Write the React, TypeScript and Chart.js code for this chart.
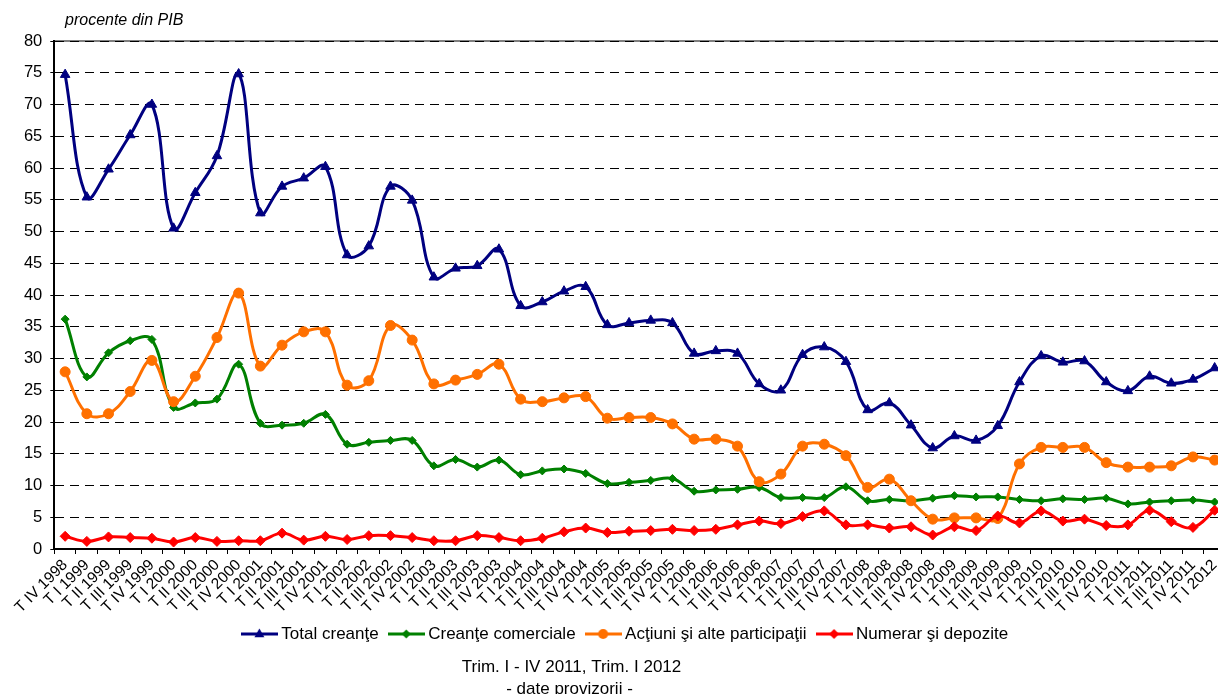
import React, { useEffect, useRef } from 'react';
import { Chart, registerables } from 'chart.js';

Chart.register(...registerables);

const categories = [
  'T IV 1998',
  'T I 1999', 'T II 1999', 'T III 1999', 'T IV 1999',
  'T I 2000', 'T II 2000', 'T III 2000', 'T IV 2000',
  'T I 2001', 'T II 2001', 'T III 2001', 'T IV 2001',
  'T I 2002', 'T II 2002', 'T III 2002', 'T IV 2002',
  'T I 2003', 'T II 2003', 'T III 2003', 'T IV 2003',
  'T I 2004', 'T II 2004', 'T III 2004', 'T IV 2004',
  'T I 2005', 'T II 2005', 'T III 2005', 'T IV 2005',
  'T I 2006', 'T II 2006', 'T III 2006', 'T IV 2006',
  'T I 2007', 'T II 2007', 'T III 2007', 'T IV 2007',
  'T I 2008', 'T II 2008', 'T III 2008', 'T IV 2008',
  'T I 2009', 'T II 2009', 'T III 2009', 'T IV 2009',
  'T I 2010', 'T II 2010', 'T III 2010', 'T IV 2010',
  'T I 2011', 'T II 2011', 'T III 2011', 'T IV 2011',
  'T I 2012',
];

const totalCreante = [
  74.7, 55.4, 59.8, 65.2, 70.0, 50.5, 56.1, 61.9, 74.8, 52.9,
  57.1, 58.4, 60.2, 46.3, 47.7, 57.1, 54.9, 42.8, 44.2, 44.6,
  47.2, 38.3, 38.9, 40.6, 41.3, 35.3, 35.6, 36.0, 35.6, 30.8,
  31.2, 30.8, 26.0, 25.0, 30.6, 31.8, 29.5, 21.9, 23.0, 19.5,
  15.9, 17.8, 17.1, 19.4, 26.3, 30.4, 29.4, 29.6, 26.3, 24.9,
  27.2, 26.1, 26.7, 28.5,
];

const creanteComerciale = [
  36.2, 27.1, 30.9, 32.8, 33.0, 22.3, 23.0, 23.6, 29.1, 19.8,
  19.5, 19.8, 21.2, 16.5, 16.8, 17.1, 17.1, 13.1, 14.1, 12.9,
  14.0, 11.7, 12.3, 12.6, 11.9, 10.3, 10.5, 10.8, 11.1, 9.1,
  9.3, 9.4, 9.7, 8.1, 8.1, 8.1, 9.8, 7.6, 7.8, 7.6,
  8.0, 8.4, 8.2, 8.2, 7.8, 7.6, 7.9, 7.8, 8.0, 7.1,
  7.4, 7.6, 7.7, 7.4,
];

const actiuni = [
  27.9, 21.3, 21.3, 24.8, 29.7, 23.2, 27.2, 33.3, 40.3, 28.8,
  32.1, 34.2, 34.2, 25.8, 26.5, 35.2, 32.9, 26.0, 26.6, 27.5,
  29.1, 23.6, 23.2, 23.8, 24.0, 20.6, 20.7, 20.7, 19.7, 17.3,
  17.3, 16.2, 10.6, 11.8, 16.2, 16.5, 14.7, 9.7, 11.0, 7.6,
  4.7, 4.9, 4.9, 4.8, 13.4, 16.0, 16.0, 16.0, 13.6, 12.9,
  12.9, 13.1, 14.5, 14.0,
];

const numerar = [
  2.0, 1.2, 1.9, 1.8, 1.7, 1.1, 1.8, 1.2, 1.3, 1.3,
  2.5, 1.4, 2.0, 1.5, 2.1, 2.1, 1.8, 1.3, 1.3, 2.1,
  1.8, 1.3, 1.7, 2.7, 3.3, 2.6, 2.8, 2.9, 3.1, 2.9,
  3.1, 3.8, 4.4, 4.0, 5.1, 6.0, 3.8, 3.8, 3.3, 3.5,
  2.2, 3.5, 2.9, 5.2, 4.1, 6.0, 4.4, 4.7, 3.7, 3.8,
  6.1, 4.3, 3.4, 6.1,
];

const seriesNames = ['Total creanţe', 'Creanţe comerciale', 'Acţiuni şi alte participaţii', 'Numerar şi depozite'];
const seriesColors = ['#000080', '#008000', '#FF7000', '#FF0000'];
const yTicks = [0, 5, 10, 15, 20, 25, 30, 35, 40, 45, 50, 55, 60, 65, 70, 75, 80];

const titleText = 'procente din PIB';
const noteLine1 = 'Trim. I - IV 2011, Trim. I 2012';
const noteLine2 = '- date provizorii -';

const FONT = '"Liberation Sans", Arial, Helvetica, sans-serif';

function makeIcon(color: string, style: string, r: number): HTMLCanvasElement {
  const c = document.createElement('canvas');
  c.width = 37;
  c.height = 14;
  const ctx = c.getContext('2d')!;
  ctx.strokeStyle = color;
  ctx.fillStyle = color;
  ctx.lineWidth = 3;
  ctx.beginPath();
  ctx.moveTo(0, 7);
  ctx.lineTo(37, 7);
  ctx.stroke();
  const x = 18.5;
  const y = 7;
  ctx.beginPath();
  if (style === 'triangle') {
    ctx.moveTo(x, y - r);
    ctx.lineTo(x + r * 0.9, y + r * 0.6);
    ctx.lineTo(x - r * 0.9, y + r * 0.6);
    ctx.closePath();
  } else if (style === 'circle') {
    ctx.arc(x, y, r, 0, Math.PI * 2);
  } else {
    ctx.moveTo(x - r, y);
    ctx.lineTo(x, y - r);
    ctx.lineTo(x + r, y);
    ctx.lineTo(x, y + r);
    ctx.closePath();
  }
  ctx.fill();
  return c;
}

const decorPlugin = {
  id: 'decor',
  beforeDraw(chart: any) {
    const { ctx, chartArea, width, height } = chart;
    ctx.save();
    ctx.fillStyle = '#ffffff';
    ctx.fillRect(0, 0, width, height);
    ctx.strokeStyle = '#808080';
    ctx.lineWidth = 2;
    ctx.beginPath();
    ctx.moveTo(chartArea.left, chartArea.top);
    ctx.lineTo(chartArea.right, chartArea.top);
    ctx.stroke();
    ctx.restore();
  },
  afterDraw(chart: any) {
    const { ctx } = chart;
    ctx.save();
    ctx.fillStyle = '#000';
    ctx.textBaseline = 'alphabetic';
    ctx.font = `italic 16px ${FONT}`;
    ctx.textAlign = 'left';
    ctx.fillText(titleText, 65, 25);
    ctx.font = `17px ${FONT}`;
    ctx.textAlign = 'center';
    ctx.fillText(noteLine1, 571.5, 671.5);
    ctx.fillText(noteLine2, 569.5, 693.5);
    ctx.restore();
  },
};

export default function App() {
  const canvasRef = useRef<HTMLCanvasElement | null>(null);

  useEffect(() => {
    if (!canvasRef.current) return;
    const styles = ['triangle', 'rectRot', 'circle', 'rectRot'];
    const radii = [5.5, 4, 5, 5];
    const iconR = [5.5, 4.5, 5, 5];
    const values = [totalCreante, creanteComerciale, actiuni, numerar];
    const icons = seriesColors.map((c, i) => makeIcon(c, styles[i], iconR[i]));

    const chart = new Chart(canvasRef.current, {
      type: 'line',
      data: {
        labels: categories,
        datasets: values.map((v, i) => ({
          label: seriesNames[i],
          data: v,
          borderColor: seriesColors[i],
          backgroundColor: seriesColors[i],
          pointBackgroundColor: seriesColors[i],
          pointBorderColor: seriesColors[i],
          pointStyle: styles[i] as any,
          pointRadius: radii[i],
          pointBorderWidth: 1,
          borderWidth: 3,
          tension: 0.4,
          fill: false,
          order: 4 - i,
        })),
      },
      options: {
        responsive: false,
        animation: false,
        events: [],
        layout: { padding: { left: 22, top: 41, right: 0, bottom: 41.5 } },
        plugins: {
          tooltip: { enabled: false },
          title: { display: false },
          legend: {
            display: true,
            position: 'bottom',
            labels: {
              usePointStyle: true,
              pointStyleWidth: 27,
              padding: 14,
              color: '#000',
              font: { family: FONT, size: 17 },
              generateLabels: (ch: any) =>
                ch.data.datasets.map((ds: any, i: number) => ({
                  text: ds.label,
                  fillStyle: seriesColors[i],
                  strokeStyle: seriesColors[i],
                  lineWidth: 0,
                  pointStyle: icons[i],
                  hidden: false,
                  datasetIndex: i,
                  fontColor: '#000',
                })),
            },
          },
        },
        scales: {
          x: {
            type: 'category',
            offset: true,
            grid: {
              display: true,
              offset: true,
              drawOnChartArea: false,
              drawTicks: true,
              tickLength: 5,
              tickColor: '#000',
              tickWidth: 1,
            },
            border: { display: true, color: '#000', width: 2 },
            ticks: {
              autoSkip: false,
              minRotation: 45,
              maxRotation: 45,
              color: '#000',
              padding: 2,
              font: { family: FONT, size: 15.5 },
            },
            afterFit: (s: any) => {
              s.height = 62.5;
            },
          },
          y: {
            min: 0,
            max: 80,
            afterBuildTicks: (s: any) => {
              s.ticks = yTicks.map((v) => ({ value: v }));
            },
            grid: {
              color: '#000',
              lineWidth: 1,
              drawTicks: true,
              tickLength: 4,
              tickColor: '#000',
              tickWidth: 1,
              tickBorderDash: [],
            },
            border: { display: true, color: '#000', width: 2, dash: [9, 6] },
            ticks: {
              color: '#000',
              padding: 8,
              font: { family: FONT, size: 16.5 },
            },
            afterFit: (s: any) => {
              s.width = 32.3;
            },
          },
        },
      },
      plugins: [decorPlugin],
    });

    return () => {
      chart.destroy();
    };
  }, []);

  return (
    <div
      style={{
        position: 'absolute',
        left: 0,
        top: 0,
        width: 1218,
        height: 694,
        overflow: 'hidden',
        background: '#fff',
      }}
    >
      <canvas ref={canvasRef} width={1232} height={694} style={{ display: 'block' }} />
    </div>
  );
}
